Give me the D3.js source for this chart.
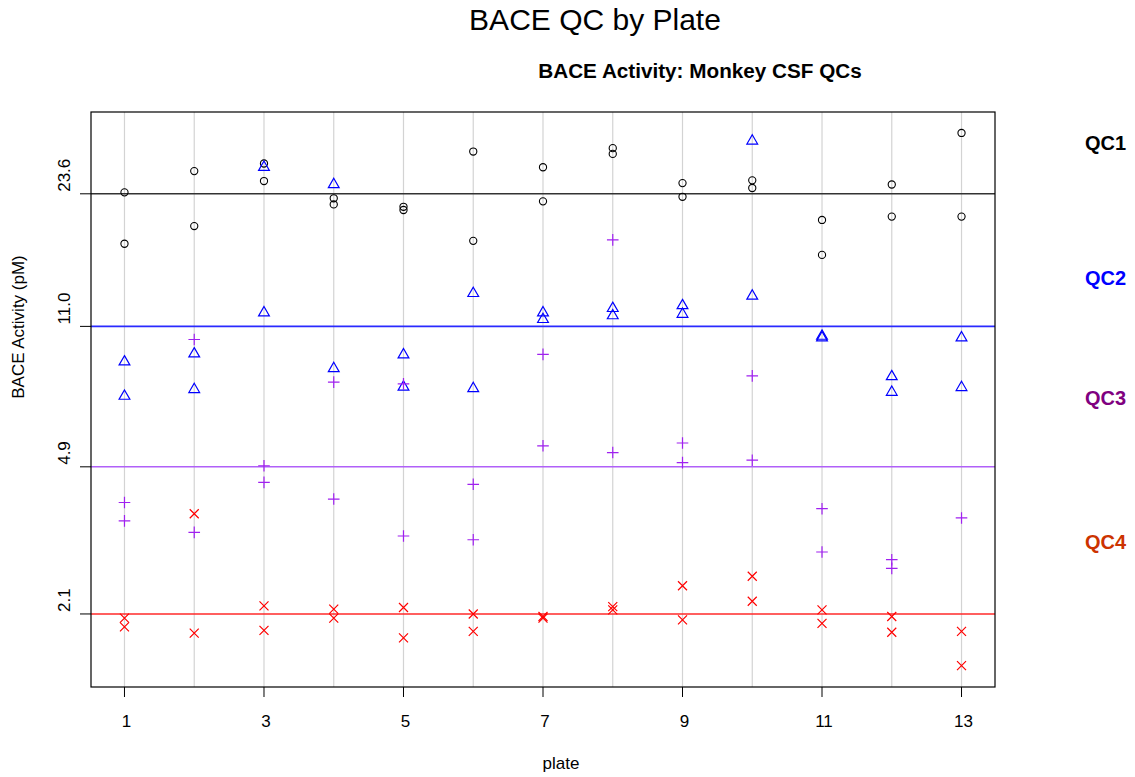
<!DOCTYPE html>
<html>
<head>
<meta charset="utf-8">
<script src="https://cdn.jsdelivr.net/npm/d3@7"></script>
<style>
    body { margin: 0; background: white; }
    text { font-family: "Liberation Sans", Arial, sans-serif; }
</style>
</head>
<body>
<svg id="chart" width="1135" height="777"></svg>
<script>
// plates along the x axis
var plates = [1, 2, 3, 4, 5, 6, 7, 8, 9, 10, 11, 12, 13];
var xTicks = [1, 3, 5, 7, 9, 11, 13];

// BACE activity (pM), two replicates per plate
var qc1 = [[23.8, 17.7], [26.9, 19.6], [28.1, 25.4], [23.0, 22.2], [21.9, 21.5], [30.1, 18.0], [27.5, 22.6],
    [30.7, 29.7], [25.1, 23.2], [25.5, 24.4], [20.3, 16.6], [24.9, 20.7], [33.5, 20.7]];
var qc2 = [[8.97, 7.36], [9.39, 7.65], [27.5, 11.9], [24.9, 8.63], [9.34, 7.76], [13.3, 7.69], [11.9, 11.45],
    [12.2, 11.7], [12.4, 11.8], [32.0, 13.1], [10.4, 10.3], [8.24, 7.53], [10.3, 7.74]];
var qc3 = [[3.99, 3.59], [10.2, 3.36], [4.93, 4.48], [7.98, 4.07], [7.9, 3.29], [4.43, 3.22], [9.36, 5.53],
    [18.1, 5.32], [5.62, 5.02], [8.27, 5.09], [3.85, 3.00], [2.87, 2.73], [3.65]];
var qc4 = [[2.05, 1.95], [3.74, 1.88], [2.20, 1.91], [2.16, 2.05], [2.18, 1.83], [2.10, 1.90], [2.07, 2.05],
    [2.19, 2.15], [2.47, 2.03], [2.61, 2.26], [2.15, 1.99], [2.07, 1.89], [1.90, 1.56]];

// overall mean of each QC (horizontal lines + y ticks)
var qcNames = ["QC1", "QC2", "QC3", "QC4"];
var refLines = [23.6, 11.0, 4.9, 2.1];
var yTickLabels = ["23.6", "11.0", "4.9", "2.1"];

var markColor = ["black", "blue", "#a020f0", "red"];
var lineColor = ["#333333", "#2a2aff", "#b060f8", "#ff2a2a"];
var labelColor = ["black", "blue", "#800080", "#cc3300"];
var labelY = [150, 285, 405, 549];

var box = { left: 91, right: 995, top: 112, bottom: 687 };

var x = d3.scaleLinear()
    .domain([0.52, 13.48])
    .range([box.left, box.right]);

var y = d3.scaleLog()
    .domain([1.379, 37.8])
    .range([box.bottom, box.top]);

var svg = d3.select("#chart");

// flatten into points
var points = [];
[qc1, qc2, qc3, qc4].forEach(function (qc, k) {
    qc.forEach(function (vals, i) {
        vals.forEach(function (v) {
            points.push({ plate: plates[i], value: v, qc: k });
        });
    });
});

// vertical grid lines
svg.selectAll(".grid")
    .data(plates)
    .enter()
    .append("line")
    .attr("class", "grid")
    .attr("x1", function (d) { return x(d); })
    .attr("x2", function (d) { return x(d); })
    .attr("y1", box.top)
    .attr("y2", box.bottom)
    .style("stroke", "#d3d3d3")
    .style("stroke-width", 1.2);

// mean lines
svg.selectAll(".ref")
    .data(refLines)
    .enter()
    .append("line")
    .attr("class", "ref")
    .attr("x1", box.left)
    .attr("x2", box.right)
    .attr("y1", function (d) { return y(d); })
    .attr("y2", function (d) { return y(d); })
    .style("stroke", function (d, i) { return lineColor[i]; })
    .style("stroke-width", 1.6);

// markers
function markPath(d) {
    var cx = x(d.plate), cy = y(d.value);
    if (d.qc == 1) {
        var R = 4;
        return "M" + cx + "," + (cy - 1.555 * R) +
            "L" + (cx + 1.347 * R) + "," + (cy + 0.778 * R) +
            "L" + (cx - 1.347 * R) + "," + (cy + 0.778 * R) + "Z";
    }
    if (d.qc == 2) {
        var a = 5.8;
        return "M" + (cx - a) + "," + cy + "L" + (cx + a) + "," + cy +
            "M" + cx + "," + (cy - a) + "L" + cx + "," + (cy + a);
    }
    var b = 4.5;
    return "M" + (cx - b) + "," + (cy - b) + "L" + (cx + b) + "," + (cy + b) +
        "M" + (cx - b) + "," + (cy + b) + "L" + (cx + b) + "," + (cy - b);
}

svg.selectAll(".pt")
    .data(points.filter(function (d) { return d.qc == 0; }))
    .enter()
    .append("circle")
    .attr("class", "pt")
    .attr("cx", function (d) { return x(d.plate); })
    .attr("cy", function (d) { return y(d.value); })
    .attr("r", 3.6)
    .style("fill", "none")
    .style("stroke", "black")
    .style("stroke-width", 1.1);

svg.selectAll(".mk")
    .data(points.filter(function (d) { return d.qc > 0; }))
    .enter()
    .append("path")
    .attr("class", "mk")
    .attr("d", markPath)
    .style("fill", "none")
    .style("stroke", function (d) { return markColor[d.qc]; })
    .style("stroke-width", 1.2);

// box
svg.append("rect")
    .attr("x", box.left)
    .attr("y", box.top)
    .attr("width", box.right - box.left)
    .attr("height", box.bottom - box.top)
    .style("fill", "none")
    .style("stroke", "black")
    .style("stroke-width", 1.2);

// x axis ticks
svg.selectAll(".xtick")
    .data(xTicks)
    .enter()
    .append("line")
    .attr("class", "xtick")
    .attr("x1", function (d) { return x(d); })
    .attr("x2", function (d) { return x(d); })
    .attr("y1", box.bottom)
    .attr("y2", box.bottom + 10)
    .style("stroke", "black");

svg.selectAll(".xlab")
    .data(xTicks)
    .enter()
    .append("text")
    .attr("class", "xlab")
    .attr("x", function (d) { return x(d) + 2; })
    .attr("y", 727)
    .attr("text-anchor", "middle")
    .style("font-size", "17px")
    .text(function (d) { return d; });

// y axis ticks
svg.selectAll(".ytick")
    .data(refLines)
    .enter()
    .append("line")
    .attr("class", "ytick")
    .attr("x1", box.left - 11)
    .attr("x2", box.left)
    .attr("y1", function (d) { return y(d); })
    .attr("y2", function (d) { return y(d); })
    .style("stroke", "black");

svg.selectAll(".ylab")
    .data(refLines)
    .enter()
    .append("text")
    .attr("class", "ylab")
    .attr("transform", function (d) { return "translate(70," + (y(d) - 2) + ") rotate(-90)"; })
    .attr("text-anchor", "start")
    .style("font-size", "17px")
    .text(function (d, i) { return yTickLabels[i]; });

// QC labels at right
svg.selectAll(".qclab")
    .data(qcNames)
    .enter()
    .append("text")
    .attr("class", "qclab")
    .attr("x", 1085)
    .attr("y", function (d, i) { return labelY[i]; })
    .style("font-size", "20px")
    .style("font-weight", "bold")
    .style("fill", function (d, i) { return labelColor[i]; })
    .text(function (d) { return d; });

// titles
svg.append("text")
    .attr("x", 595)
    .attr("y", 30)
    .attr("text-anchor", "middle")
    .style("font-size", "30px")
    .text("BACE QC by Plate");

svg.append("text")
    .attr("x", 700)
    .attr("y", 78)
    .attr("text-anchor", "middle")
    .style("font-size", "20.7px")
    .style("font-weight", "bold")
    .text("BACE Activity: Monkey CSF QCs");

svg.append("text")
    .attr("x", 561)
    .attr("y", 769)
    .attr("text-anchor", "middle")
    .style("font-size", "17px")
    .text("plate");

svg.append("text")
    .attr("transform", "translate(24,327) rotate(-90)")
    .attr("text-anchor", "middle")
    .style("font-size", "17px")
    .text("BACE Activity (pM)");
</script>
</body>
</html>
